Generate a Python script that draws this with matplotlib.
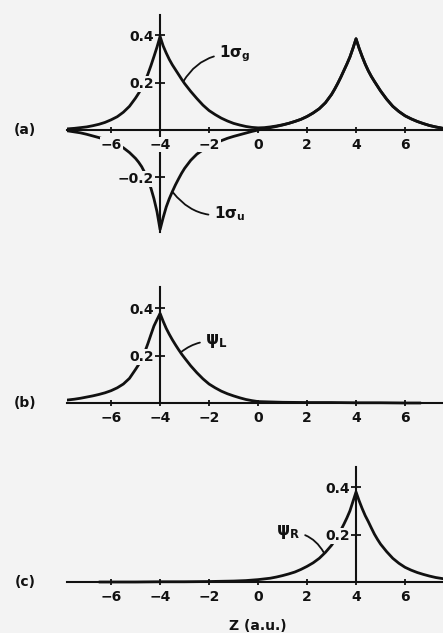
import matplotlib
matplotlib.use("Agg")
import matplotlib.pyplot as plt

# ---------------- data ----------------
xticks = [-6, -4, -2, 0, 2, 4, 6]
xtick_labels = ["−6", "−4", "−2", "0", "2", "4", "6"]

# panel (a): 1sigma_g and 1sigma_u
z_a = [-7.75, -7.5, -7.25, -7.0, -6.75, -6.5, -6.25, -6.0, -5.75, -5.5, -5.25, -5.0,
       -4.875, -4.75, -4.625, -4.5, -4.375, -4.25, -4.125, -4.0,
       -3.875, -3.75, -3.625, -3.5, -3.375, -3.25, -3.125, -3.0,
       -2.75, -2.5, -2.25, -2.0, -1.75, -1.5, -1.25, -1.0, -0.75, -0.5, -0.25, 0.0,
       0.25, 0.5, 0.75, 1.0, 1.25, 1.5, 1.75, 2.0, 2.25, 2.5, 2.75, 3.0,
       3.125, 3.25, 3.375, 3.5, 3.625, 3.75, 3.875, 4.0,
       4.125, 4.25, 4.375, 4.5, 4.625, 4.75, 4.875, 5.0,
       5.25, 5.5, 5.75, 6.0, 6.25, 6.5, 6.75, 7.0, 7.25, 7.55]
sigma_g = [0.005, 0.007, 0.010, 0.013, 0.018, 0.024, 0.032, 0.043, 0.056, 0.075, 0.100, 0.135,
           0.155, 0.177, 0.204, 0.235, 0.271, 0.310, 0.350, 0.395,
           0.355, 0.325, 0.298, 0.275, 0.255, 0.235, 0.215, 0.196,
           0.163, 0.133, 0.105, 0.082, 0.065, 0.050, 0.038, 0.028, 0.021, 0.015, 0.011, 0.009,
           0.010, 0.013, 0.017, 0.022, 0.028, 0.036, 0.045, 0.057, 0.072, 0.090, 0.115, 0.150,
           0.172, 0.196, 0.222, 0.250, 0.278, 0.308, 0.345, 0.385,
           0.345, 0.310, 0.278, 0.250, 0.226, 0.205, 0.185, 0.165,
           0.130, 0.100, 0.078, 0.060, 0.047, 0.036, 0.027, 0.019, 0.013, 0.007]
sigma_u = [-0.004, -0.008, -0.012, -0.018, -0.025, -0.032, -0.040, -0.050, -0.061, -0.075, -0.095, -0.120,
           -0.136, -0.155, -0.180, -0.210, -0.245, -0.290, -0.345, -0.420,
           -0.370, -0.325, -0.290, -0.260, -0.232, -0.207, -0.183, -0.162,
           -0.128, -0.102, -0.084, -0.070, -0.057, -0.045, -0.035, -0.027, -0.020, -0.013, -0.006, 0.000,
           0.005, 0.010, 0.015, 0.021, 0.028, 0.036, 0.045, 0.057, 0.072, 0.090, 0.115, 0.150,
           0.172, 0.196, 0.222, 0.250, 0.278, 0.308, 0.345, 0.385,
           0.345, 0.310, 0.278, 0.250, 0.226, 0.205, 0.185, 0.165,
           0.130, 0.100, 0.078, 0.060, 0.047, 0.036, 0.027, 0.019, 0.013, 0.007]

# panel (b): psi_L
z_b = [-7.75, -7.5, -7.25, -7.0, -6.75, -6.5, -6.25, -6.0, -5.75, -5.5, -5.25, -5.0,
       -4.875, -4.75, -4.625, -4.5, -4.375, -4.25, -4.125, -4.0,
       -3.875, -3.75, -3.625, -3.5, -3.375, -3.25, -3.125, -3.0,
       -2.75, -2.5, -2.25, -2.0, -1.75, -1.5, -1.25, -1.0, -0.75, -0.5, -0.25, 0.0,
       1.0, 2.0, 3.0, 4.0, 5.0, 6.0, 6.6]
psi_L = [0.013, 0.016, 0.020, 0.025, 0.030, 0.036, 0.043, 0.052, 0.064, 0.080, 0.104, 0.142,
         0.162, 0.186, 0.215, 0.250, 0.288, 0.325, 0.352, 0.378,
         0.345, 0.315, 0.290, 0.267, 0.246, 0.226, 0.207, 0.190,
         0.157, 0.128, 0.102, 0.080, 0.064, 0.050, 0.039, 0.030, 0.022, 0.015, 0.010, 0.006,
         0.003, 0.002, 0.002, 0.001, 0.001, 0.000, 0.000]

# panel (c): psi_R
z_c = [-6.45, -5.0, -4.0, -3.0, -2.0, -1.5, -1.0, -0.5, 0.0,
       0.25, 0.5, 0.75, 1.0, 1.25, 1.5, 1.75, 2.0, 2.25, 2.5, 2.75, 3.0,
       3.125, 3.25, 3.375, 3.5, 3.625, 3.75, 3.875, 4.0,
       4.125, 4.25, 4.375, 4.5, 4.625, 4.75, 4.875, 5.0,
       5.25, 5.5, 5.75, 6.0, 6.25, 6.5, 6.75, 7.0, 7.25, 7.55]
psi_R = [0.000, 0.000, 0.001, 0.001, 0.002, 0.003, 0.004, 0.006, 0.010,
         0.013, 0.016, 0.021, 0.027, 0.034, 0.042, 0.053, 0.066, 0.081, 0.100, 0.125, 0.155,
         0.174, 0.195, 0.218, 0.243, 0.270, 0.300, 0.340, 0.380,
         0.343, 0.310, 0.280, 0.255, 0.228, 0.202, 0.180, 0.160,
         0.128, 0.100, 0.079, 0.062, 0.050, 0.040, 0.032, 0.025, 0.019, 0.014]

# ---------------- styling ----------------
BG = "#f3f3f3"
INK = "#111111"
W, H = 443, 633
plt.rcParams["font.family"] = ["DejaVu Sans"]
plt.rcParams["font.weight"] = "bold"
plt.rcParams["mathtext.fontset"] = "dejavusans"

fig = plt.figure(figsize=(W / 100, H / 100), dpi=100)
fig.patch.set_facecolor(BG)

XLIM = (-7.8, 7.55)
LEFT = 67 / W
WIDTH = 1 - LEFT
SCALE = 237.0  # px per unit on y


def make_axes(top_px, bottom_px, axis_px):
    ax = fig.add_axes([LEFT, (H - bottom_px) / H, WIDTH, (bottom_px - top_px) / H])
    ax.set_xlim(*XLIM)
    ax.set_ylim(-(bottom_px - axis_px) / SCALE, (axis_px - top_px) / SCALE)
    ax.patch.set_visible(False)
    return ax


def style_axes(ax, vx, vbounds, yt, ytl):
    for s in ["top", "right"]:
        ax.spines[s].set_visible(False)
    ax.spines["bottom"].set_position(("data", 0))
    ax.spines["left"].set_position(("data", vx))
    ax.spines["left"].set_bounds(*vbounds)
    for s in ["bottom", "left"]:
        ax.spines[s].set_linewidth(1.5)
        ax.spines[s].set_color(INK)
    ax.set_xticks(xticks)
    ax.set_xticklabels(xtick_labels)
    ax.set_yticks(yt)
    ax.set_yticklabels(ytl)
    ax.tick_params(axis="x", direction="inout", length=5, width=1.3, pad=3,
                   labelsize=10, colors=INK)
    ax.tick_params(axis="y", direction="inout", length=7, width=1.3, pad=1.0,
                   labelsize=10, colors=INK)
    ax.set_axisbelow(False)
    for lab in ax.get_xticklabels() + ax.get_yticklabels():
        lab.set_fontweight("bold")
        lab.set_bbox(dict(facecolor=BG, edgecolor="none", pad=0.6))


LW = 2.0
lead = dict(arrowstyle="-", color=INK, lw=1.3, shrinkA=2, shrinkB=0)

# (a)
ax_a = make_axes(5, 235, 130)
ax_a.plot(z_a, sigma_g, color=INK, lw=LW)
ax_a.plot(z_a, sigma_u, color=INK, lw=LW)
style_axes(ax_a, -4, (-0.43, 0.485), [-0.2, 0.2, 0.4], ["−0.2", "0.2", "0.4"])
ax_a.annotate("1σ$_{\\mathbf{g}}$", xy=(-3.05, 0.205), xytext=(-1.58, 0.32),
              fontsize=11, fontweight="bold", color=INK, va="center", ha="left",
              arrowprops=dict(lead, connectionstyle="arc3,rad=0.3"))
ax_a.annotate("1σ$_{\\mathbf{u}}$", xy=(-3.46, -0.265), xytext=(-1.8, -0.355),
              fontsize=11, fontweight="bold", color=INK, va="center", ha="left",
              arrowprops=dict(lead, connectionstyle="arc3,rad=-0.3"))

# (b)
ax_b = make_axes(275, 420, 403)
ax_b.plot(z_b, psi_L, color=INK, lw=LW)
style_axes(ax_b, -4, (0, 0.49), [0.2, 0.4], ["0.2", "0.4"])
ax_b.annotate("ψ$_{\\mathbf{L}}$", xy=(-3.14, 0.215), xytext=(-2.15, 0.26),
              fontsize=12, fontweight="bold", color=INK, va="center", ha="left",
              arrowprops=dict(lead, connectionstyle="arc3,rad=0.2"))

# (c)
ax_c = make_axes(455, 600, 582)
ax_c.plot(z_c, psi_R, color=INK, lw=LW)
style_axes(ax_c, 4, (0, 0.485), [0.2, 0.4], ["0.2", "0.4"])
ax_c.annotate("ψ$_{\\mathbf{R}}$", xy=(2.68, 0.125), xytext=(0.72, 0.21),
              fontsize=12, fontweight="bold", color=INK, va="center", ha="left",
              arrowprops=dict(lead, connectionstyle="arc3,rad=-0.3"))

# panel letters and axis title
for lab, ypx in [("(a)", 130), ("(b)", 403), ("(c)", 582)]:
    fig.text(25 / W, 1 - ypx / H, lab, fontsize=10, fontweight="bold", color=INK,
             ha="center", va="center")
fig.text(258 / W, 1 - 619 / H, "Z (a.u.)", fontsize=10, fontweight="bold", color=INK,
         ha="center", va="top")

fig.savefig("out.png", dpi=100, facecolor=BG)
